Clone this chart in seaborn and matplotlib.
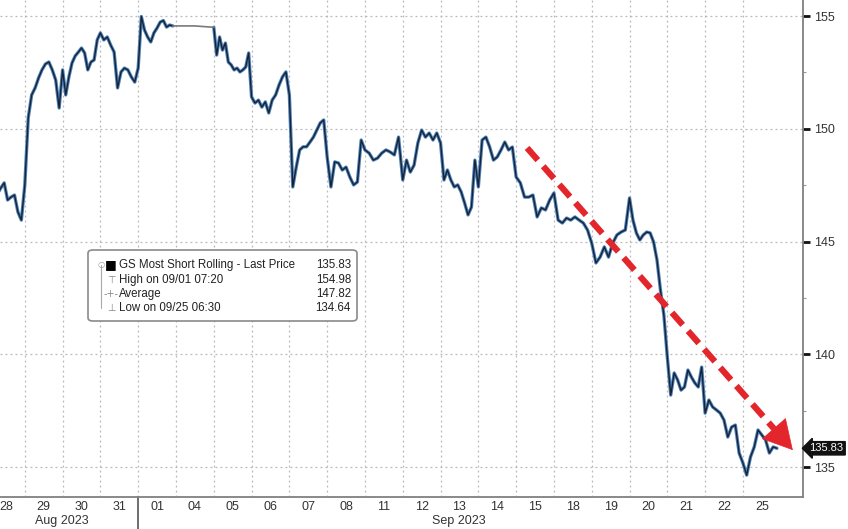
import numpy as np
import pandas as pd
import matplotlib
matplotlib.use("Agg")
import matplotlib.pyplot as plt
from matplotlib.lines import Line2D
from matplotlib.patches import FancyBboxPatch
import seaborn as sns

# ---------------- data ----------------
day_labels = ["28", "29", "30", "31", "01", "04", "05", "06", "07", "08", "11",
              "12", "13", "14", "15", "18", "19", "20", "21", "22", "25"]

aug28 = [147.20, 147.02, 147.28, 147.10, 147.37, 147.60, 146.84, 146.97, 147.06, 146.31, 145.95]
aug29 = [147.50, 150.48, 151.50, 151.81, 152.25, 152.61, 152.87, 152.96, 152.61, 152.16, 150.92]
aug30 = [152.61, 151.50, 152.30, 152.92, 153.23, 153.40, 153.58, 153.36, 152.61, 152.96, 153.05, 153.94]
aug31 = [154.25, 153.94, 154.07, 153.71, 153.40, 151.81, 152.52, 152.69, 152.61, 152.30, 152.07]
sep01 = [152.69, 154.98, 154.38, 154.07, 153.85, 154.25, 154.47, 154.73, 154.80, 154.51, 154.60, 154.56]
sep04 = [154.56, 154.56]
sep05 = [154.50, 153.27, 154.07, 153.49, 153.80, 152.96, 152.83, 152.61, 152.69, 152.52, 152.61, 152.74, 153.36]
sep06 = [151.41, 151.14, 151.27, 150.96, 151.19, 150.70, 151.27, 151.50, 151.94, 152.30, 152.52]
sep07 = [151.50, 147.42, 148.30, 149.06, 149.20, 149.20, 149.41, 149.63, 149.94, 150.26, 150.39]
sep08 = [148.75, 147.42, 148.53, 148.48, 148.17, 148.30, 147.86, 147.51, 147.64, 149.50]
sep11 = [149.06, 148.92, 148.61, 148.70, 148.92, 149.06, 148.97, 148.84, 149.63]
sep12 = [147.73, 148.61, 148.08, 148.39, 149.37, 149.94, 149.63, 149.81, 149.50, 149.81]
sep13 = [149.37, 147.73, 148.17, 147.73, 147.42, 147.51, 147.20, 146.71, 146.18, 146.53, 148.61]
sep14 = [147.42, 149.50, 149.63, 149.19, 148.61, 148.75, 149.06, 149.41, 149.06, 149.19]
sep15 = [147.86, 147.60, 146.97, 146.97, 147.06, 146.09, 146.49, 146.40, 146.84]
sep18 = [147.15, 145.95, 145.82, 146.04, 145.95, 146.09, 145.95, 145.82, 145.51]
sep19 = [144.93, 144.05, 144.31, 144.76, 144.31, 144.93, 145.29, 145.42, 145.51]
sep20 = [146.93, 145.95, 145.38, 145.07, 145.29, 145.42, 145.38, 144.98, 144.18, 142.85, 141.74]
sep21 = [139.88, 138.19, 139.17, 138.86, 138.41, 138.55, 139.30, 138.99, 138.73, 138.55, 139.43]
sep22 = [137.39, 137.97, 137.66, 137.53, 137.39, 137.08, 136.33, 136.77, 136.86, 135.62]
sep25 = [135.18, 134.64, 135.44, 135.89, 136.64, 136.42, 136.20, 135.62, 135.89, 135.83]

daily_prices = [aug28, aug29, aug30, aug31, sep01, sep04, sep05, sep06, sep07, sep08,
                sep11, sep12, sep13, sep14, sep15, sep18, sep19, sep20, sep21, sep22, sep25]
holiday_day = 5  # Sep 04 (Labor Day) flat segment

y_ticks = [135, 140, 145, 150, 155]
last_price = 135.83
legend_rows = [("GS Most Short Rolling - Last Price", "135.83"),
               ("High on 09/01 07:20", "154.98"),
               ("Average", "147.82"),
               ("Low on 09/25 06:30", "134.64")]
arrow_start = (14.29, 149.15)
arrow_end = (21.32, 135.75)

# ---------------- build the table ----------------
rows = []
for d, prices in enumerate(daily_prices):
    n = len(prices)
    for k, p in enumerate(prices):
        rows.append({"t": d + k / n, "price": p, "day": d})
df = pd.DataFrame(rows)
df["seg"] = np.where(df["day"] < holiday_day, "a", np.where(df["day"] > holiday_day, "b", "h"))

main_a = df[df["seg"] == "a"]
main_b = df[df["seg"] == "b"]
gap = pd.concat([main_a.tail(1), df[df["seg"] == "h"], main_b.head(1)])

# ---------------- figure ----------------
sns.set_style("white")
plt.rcParams["font.family"] = ["Liberation Sans", "DejaVu Sans"]

W, H = 848, 529
fig = plt.figure(figsize=(W / 100, H / 100), dpi=100)
ax_left, ax_right, ax_bottom_px = 0, 803, 497
ax = fig.add_axes([ax_left / W, 1 - ax_bottom_px / H, (ax_right - ax_left) / W, ax_bottom_px / H])

for part in (main_a, main_b):
    sns.lineplot(data=part, x="t", y="price", ax=ax, estimator=None, sort=False,
                 color="#4a82bd", lw=2.4, legend=False)
    sns.lineplot(data=part, x="t", y="price", ax=ax, estimator=None, sort=False,
                 color="#1a2230", lw=1.0, legend=False)
sns.lineplot(data=gap, x="t", y="price", ax=ax, estimator=None, sort=False,
             color="#7a7a7a", lw=1.2, legend=False)

ax.set_xlim(0.344, 21.59)
ax.set_ylim(133.67, 155.71)

# grid & ticks
ax.set_xticks(np.arange(1, len(day_labels)))
ax.set_xticklabels([])
ax.set_xticks(np.arange(len(day_labels)) + 0.5, minor=True)
ax.set_xticklabels(day_labels, minor=True)
ax.tick_params(axis="x", which="major", length=0)
ax.tick_params(axis="x", which="minor", length=0, pad=3, labelsize=9, labelcolor="#333333")

ax.yaxis.tick_right()
ax.set_yticks(y_ticks)
ax.set_yticks(np.arange(137.5, 156, 5), minor=True)
ax.tick_params(axis="y", which="major", length=5, width=2, color="#111111", pad=3,
               labelsize=9, labelcolor="#333333")
ax.tick_params(axis="y", which="minor", length=2.5, width=0.8, color="#999999")

ax.grid(True, which="major", axis="both", color="#b8b8b8", lw=0.9, ls=(0, (1.5, 2.5)))
ax.set_xlabel("")
ax.set_ylabel("")

for s in ("left", "top"):
    ax.spines[s].set_visible(False)
for s in ("right", "bottom"):
    ax.spines[s].set_color("#808080")
    ax.spines[s].set_linewidth(1.3)

# month separator + month labels
ax.plot([4.0, 4.0], [0, -(529 - 497) / 497], transform=ax.get_xaxis_transform(),
        color="#555555", lw=1.2, clip_on=False)
ax.text(1.98, -0.049, "Aug 2023", transform=ax.get_xaxis_transform(), ha="center",
        va="center", fontsize=9, color="#333333")
ax.text(12.49, -0.049, "Sep 2023", transform=ax.get_xaxis_transform(), ha="center",
        va="center", fontsize=9, color="#333333")

# red dashed trend arrow
red = "#e3262b"
frac = 0.93
mid = (arrow_start[0] + (arrow_end[0] - arrow_start[0]) * frac,
       arrow_start[1] + (arrow_end[1] - arrow_start[1]) * frac)
ax.plot([arrow_start[0], mid[0]], [arrow_start[1], mid[1]], color=red, lw=4.5,
        dashes=(2.6, 1.3), solid_capstyle="butt", dash_capstyle="butt", clip_on=False)
ax.annotate("", xy=arrow_end, xytext=mid,
            arrowprops=dict(arrowstyle="-|>,head_length=1.0,head_width=0.55",
                            color=red, lw=0.5, mutation_scale=20, shrinkA=0, shrinkB=0),
            annotation_clip=False)

# last price tag
ax.text(1.008, last_price, f"{last_price:.2f}", transform=ax.get_yaxis_transform(),
        ha="left", va="center", fontsize=8, color="white",
        bbox=dict(boxstyle="larrow,pad=0.15", fc="#111111", ec="#111111"))

# legend box
def fx(px):
    return px / W

def fy(py):
    return 1 - py / H

box = FancyBboxPatch((fx(88), fy(321)), fx(357) - fx(88), fy(250) - fy(321),
                     boxstyle="round,pad=0,rounding_size=0.006", transform=fig.transFigure,
                     fc="white", ec="#8a8a8a", lw=1.2, zorder=5)
fig.patches.append(box)
row_y = [265, 280, 294, 308]
fig.add_artist(Line2D([fx(101), fx(101)], [fy(265), fy(308)], transform=fig.transFigure,
                      color="#aaaaaa", lw=0.8, zorder=6))
fig.text(fx(101), fy(265), "○", ha="center", va="center", fontsize=6, color="#999999",
         family=["DejaVu Sans"], zorder=7)
fig.text(fx(111), fy(265), "■", ha="center", va="center", fontsize=9, color="#000000",
         family=["DejaVu Sans"], zorder=7)
icons = ["⊤", "-+-", "⊥"]
for yy, ic in zip(row_y[1:], icons):
    fig.text(fx(111), fy(yy), ic, ha="center", va="center", fontsize=7, color="#888888",
             family=["DejaVu Sans"], zorder=7)
for yy, (lab, val) in zip(row_y, legend_rows):
    fig.text(fx(119), fy(yy), lab, ha="left", va="center", fontsize=8.3, color="#222222", zorder=7)
    fig.text(fx(351), fy(yy), val, ha="right", va="center", fontsize=8.3, color="#222222", zorder=7)

fig.savefig("out.png", dpi=100)
